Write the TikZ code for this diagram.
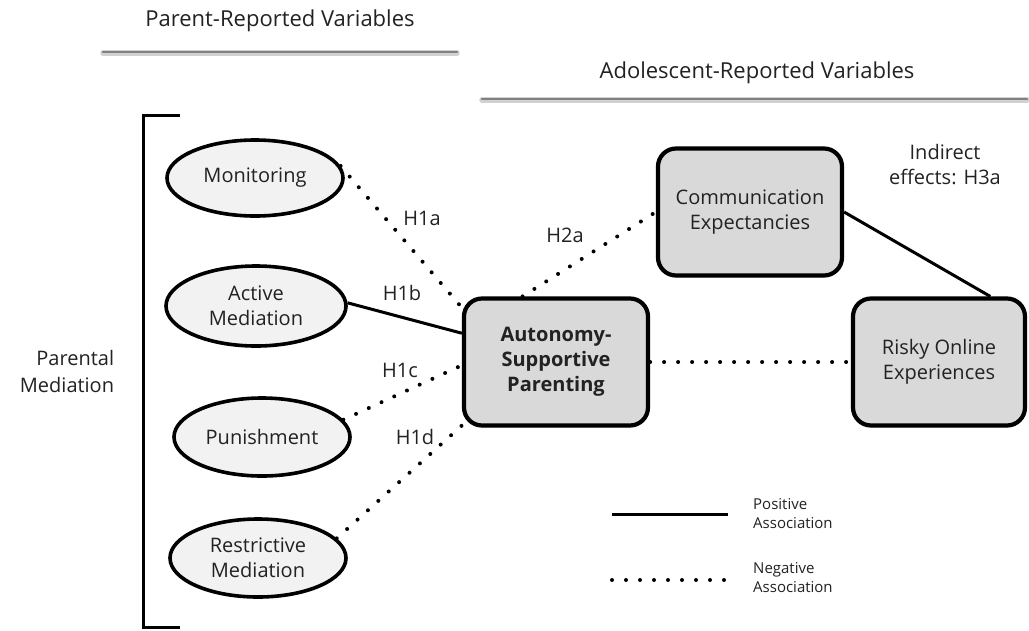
\documentclass[tikz,border=0pt]{standalone}
\usepackage{fontspec}
\setmainfont{Open Sans}
\usetikzlibrary{shapes.geometric,shadows}
\definecolor{txt}{HTML}{222222}
\tikzset{
  ell/.style={ellipse, draw=black, line width=3.6pt, fill=black!5, minimum width=176pt, minimum height=76pt,
    inner sep=0pt, align=center, text=txt, font=\fontsize{20}{25}\selectfont,
    drop shadow={shadow xshift=0pt, shadow yshift=-1.5pt, opacity=0.25}},
  rbox/.style={rectangle, rounded corners=18pt, draw=black, line width=4.2pt, fill=black!15,
    minimum width=184pt, minimum height=127pt, inner sep=0pt, align=center, text=txt,
    font=\fontsize{20}{25}\selectfont,
    drop shadow={shadow xshift=0pt, shadow yshift=-2pt, opacity=0.25}},
  lbl/.style={text=txt, font=\fontsize{20}{25}\selectfont, align=center, inner sep=0pt},
  hdr/.style={text=txt, font=\fontsize{22}{27}\selectfont, inner sep=0pt},
  leg/.style={text=txt, font=\fontsize{15}{19}\selectfont, align=left, inner sep=0pt, anchor=west},
  posline/.style={line width=3pt},
  negline/.style={line width=4pt, line cap=round, dash pattern=on 0pt off 14pt},
  hline/.style={line cap=round},
}
\begin{document}
\begin{tikzpicture}[x=1pt,y=-1pt]
\useasboundingbox[fill=white] (0,0) rectangle (1029,630);

% headers
\node[hdr] (hp) at (280,21) {Parent-Reported Variables};
\draw[hline, line width=5.5pt, black!18] (103,53) -- (457,53);
\draw[hline, line width=2.8pt, black!50] (103,52) -- (457,52);
\node[hdr] (ha) at (757,73) {Adolescent-Reported Variables};
\draw[hline, line width=5.5pt, black!18] (482,100) -- (1027,100);
\draw[hline, line width=2.8pt, black!50] (482,99) -- (1027,99);

% bracket
\draw[line width=3pt] (180,115) -- (143,115) -- (143,627) -- (180,627);
\node[lbl, align=right, font=\fontsize{20}{27}\selectfont] (pm) at (67,371) {Parental\\Mediation};

% nodes
\node[ell] (mon) at (255,178) {Monitoring};
\node[ell, minimum width=180pt, minimum height=80pt] (act) at (256,306) {Active\\Mediation};
\node[ell, minimum height=78pt] (pun) at (262,437) {Punishment};
\node[ell, minimum height=78pt] (res) at (258,558) {Restrictive\\Mediation};

\node[rbox, font=\fontsize{20}{25}\selectfont\bfseries] (aut) at (556,362) {Autonomy-\\Supportive\\Parenting};
\node[rbox] (com) at (750,212) {Communication\\Expectancies};
\node[rbox, minimum width=172pt] (risk) at (939,362) {Risky Online\\Experiences};

% connectors
\draw[negline] (mon.8) -- (aut.150);
\draw[posline] (act.2) -- (aut.163);
\draw[negline] (pun.12) -- (aut.182);
\draw[negline] (res.14) -- (aut.214);
\draw[negline] (aut.117) -- (com.west);
\draw[negline] (aut.east) -- (risk.west);
\draw[posline] (com.east) -- (risk.52);

% labels
\node[lbl] (h1a) at (422,218) {H1a};
\node[lbl] (h1b) at (402,293) {H1b};
\node[lbl] (h1c) at (400,370) {H1c};
\node[lbl] (h1d) at (415,437) {H1d};
\node[lbl] (h2a) at (565,235) {H2a};
\node[lbl] (ind) at (945,165) {Indirect\\effects: H3a};

% legend
\coordinate (lp1) at (612,514);
\coordinate (lp2) at (728,514);
\coordinate (ln1) at (612,580);
\coordinate (ln2) at (728,580);
\draw[posline] (lp1) -- (lp2);
\draw[negline] (ln1) -- (ln2);
\node[leg] (lpt) at (753,514) {Positive\\Association};
\node[leg] (lnt) at (753,578) {Negative\\Association};
\end{tikzpicture}
\end{document}
